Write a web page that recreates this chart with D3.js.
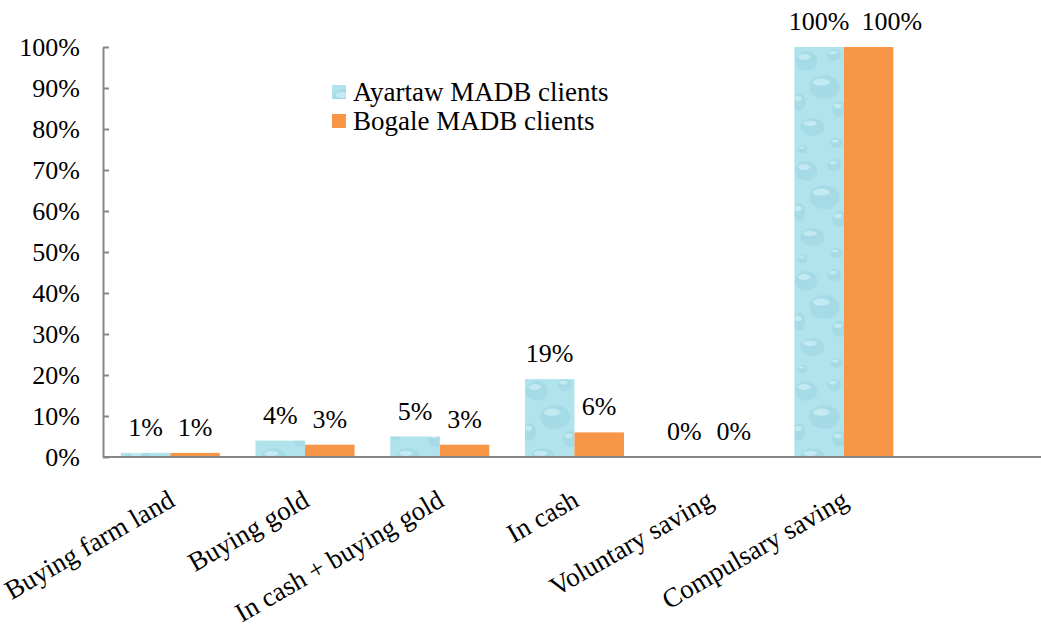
<!DOCTYPE html>
<html>
<head>
<meta charset="utf-8">
<script src="https://cdn.jsdelivr.net/npm/d3@7"></script>
<style>
  body { margin: 0; background: #fff; }
</style>
</head>
<body>
<svg id="chart" width="1041" height="633"></svg>
<script>
// data
const categories = ["Buying farm land", "Buying gold", "In cash + buying gold", "In cash", "Voluntary saving", "Compulsary saving"];
const seriesNames = ["Ayartaw MADB clients", "Bogale MADB clients"];
const ayartaw = [1, 4, 5, 19, 0, 100];
const bogale = [1, 3, 3, 6, 0, 100];
const yTicks = [0, 10, 20, 30, 40, 50, 60, 70, 80, 90, 100];

const serif = "'Liberation Serif', 'Times New Roman', serif";
const svg = d3.select("#chart").style("font-family", serif);
const fontSize = 26;

const margin = { left: 103, top: 47, bottom: 176 };
const plotW = 1041 - margin.left; // axis runs to the edge
const step = 134.7; // excel left an empty slot at the right end
const plotH = 633 - margin.top - margin.bottom;

const g = svg.append("g").attr("transform", `translate(${margin.left},${margin.top})`);

// water drop texture for the first series
const defs = svg.append("defs");
const pat = defs.append("pattern")
    .attr("id", "water")
    .attr("patternUnits", "userSpaceOnUse")
    .attr("width", 50).attr("height", 110);
pat.append("rect").attr("width", 50).attr("height", 110).attr("fill", "#b0e3ec");
const drops = [
    [12, 14, 11, 10], [40, 8, 7, 6], [30, 40, 15, 12], [5, 55, 6, 9], [45, 62, 7, 8],
    [18, 80, 12, 9], [42, 96, 6, 5], [8, 102, 5, 4]
];
drops.forEach(([cx, cy, rx, ry]) => {
    pat.append("ellipse").attr("cx", cx).attr("cy", cy).attr("rx", rx).attr("ry", ry)
        .attr("fill", "#94d1de").attr("opacity", 0.45);
    pat.append("ellipse").attr("cx", cx - rx * 0.2).attr("cy", cy - ry * 0.4).attr("rx", rx * 0.55).attr("ry", ry * 0.3)
        .attr("fill", "#d8f3f8").attr("opacity", 0.6);
});

const seriesFill = ["url(#water)", "#f79646"];

const x = d3.scaleBand()
    .domain(categories)
    .range([0, step * categories.length])
    .paddingInner(0.265)
    .paddingOuter(0.1325);

const xInner = d3.scaleBand()
    .domain(seriesNames)
    .range([0, x.bandwidth()]);

const y = d3.scaleLinear().domain([0, 100]).range([plotH, 0]);

// y axis
const yAxis = g.append("g")
    .call(d3.axisLeft(y).tickValues(yTicks).tickFormat(d => d + "%").tickSizeInner(-6).tickSizeOuter(0).tickPadding(23));
yAxis.attr("font-family", null).attr("font-size", null);
yAxis.select(".domain").attr("stroke", "#868686").attr("stroke-width", 2);
yAxis.selectAll(".tick line").attr("stroke", "#868686").attr("stroke-width", 2);
yAxis.selectAll(".tick text")
    .style("font-size", fontSize + "px")
    .attr("fill", "#000");

// bars
const rows = categories.map((c, i) => ({ cat: c, vals: [ayartaw[i], bogale[i]] }));

const groups = g.selectAll(".grp")
    .data(rows)
    .join("g")
    .attr("class", "grp")
    .attr("transform", d => `translate(${x(d.cat)},0)`);

groups.selectAll("rect")
    .data(d => d.vals.map((v, k) => ({ name: seriesNames[k], v, k })))
    .join("rect")
    .attr("x", d => xInner(d.name))
    .attr("y", d => y(d.v))
    .attr("width", xInner.bandwidth())
    .attr("height", d => plotH - y(d.v))
    .attr("fill", d => seriesFill[d.k]);

groups.selectAll("text")
    .data(d => d.vals.map((v, k) => ({ name: seriesNames[k], v, k })))
    .join("text")
    .attr("x", d => xInner(d.name) + xInner.bandwidth() / 2)
    .attr("y", d => y(d.v) - 17)
    .attr("text-anchor", "middle")
    .style("font-size", fontSize + "px")
    .text(d => d.v + "%");

// push the second label right when it runs into the first (like excel does)
groups.each(function () {
    const t = d3.select(this).selectAll("text").nodes();
    const a = t[0].getBBox(), b = t[1].getBBox();
    if (Math.abs(a.y - b.y) < a.height && b.x < a.x + a.width + 12) {
        d3.select(t[1]).attr("x", +d3.select(t[1]).attr("x") + (a.x + a.width + 12 - b.x));
    }
});

// x axis line
g.append("line")
    .attr("x1", 0).attr("x2", plotW)
    .attr("y1", plotH).attr("y2", plotH)
    .attr("stroke", "#868686").attr("stroke-width", 2);

// category labels, slanted
g.selectAll(".cat")
    .data(categories)
    .join("text")
    .attr("class", "cat")
    .attr("text-anchor", "end")
    .attr("transform", d => `translate(${x(d) + x.bandwidth() / 2 + 6},${plotH + 48}) rotate(-30)`)
    .style("font-size", "27px")
    .text(d => d);

// legend
const legend = svg.append("g").attr("transform", "translate(332,85)");
const li = legend.selectAll("g")
    .data(seriesNames)
    .join("g")
    .attr("transform", (d, i) => `translate(0,${i * 29})`);
li.append("rect")
    .attr("width", 14).attr("height", 14)
    .attr("fill", (d, i) => seriesFill[i]);
li.append("text")
    .attr("x", 21).attr("y", 7)
    .attr("dy", "0.35em")
    .style("font-size", "27px")
    .text(d => d);
</script>
</body>
</html>
